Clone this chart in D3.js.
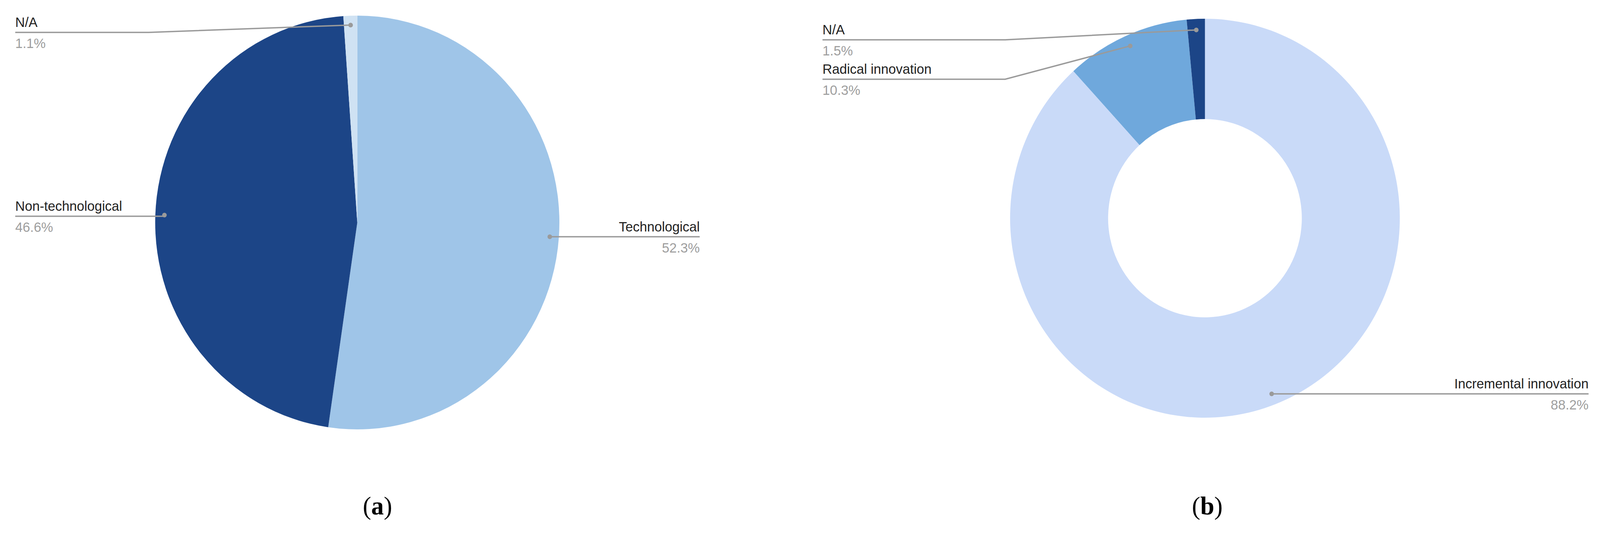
<!DOCTYPE html>
<html><head><meta charset="utf-8">
<script src="https://cdn.jsdelivr.net/npm/d3@7"></script>
<style>html,body{margin:0;padding:0;background:#fff;overflow:hidden}svg{display:block}</style>
</head><body>
<script>
// chart (a)
var typeLabels = ['Technological', 'Non-technological', 'N/A'];
var typeValues = [52.3, 46.6, 1.1];
var typeColors = ['#9fc5e8', '#1c4587', '#cfe2f3'];
// chart (b)
var degreeLabels = ['Incremental innovation', 'Radical innovation', 'N/A'];
var degreeValues = [88.2, 10.3, 1.5];
var degreeColors = ['#c9daf8', '#6fa8dc', '#1c4587'];

var W = 4196, H = 1368;
var svg = d3.select('body').append('svg')
  .attr('width', '100vw').attr('height', '100vh')
  .attr('viewBox', '0 0 ' + W + ' ' + H)
  .attr('preserveAspectRatio', 'none')
  .style('font-family', 'Liberation Sans, Arial, sans-serif');

function drawPie(cfg) {
  var pie = d3.pie().sort(null).value(function (d) { return d; });
  var arcs = pie(cfg.values);
  var g = svg.append('g').attr('transform', 'translate(' + cfg.cx + ',' + cfg.cy + ')');
  var arc = d3.arc().innerRadius(cfg.inner).outerRadius(cfg.outer);
  g.selectAll('path').data(arcs).enter().append('path')
    .attr('d', arc)
    .attr('fill', function (d, i) { return cfg.colors[i]; });

  arcs.forEach(function (a, i) {
    var mid = (a.startAngle + a.endAngle) / 2;
    var dr = cfg.outer * cfg.dotFrac;
    var dx = cfg.cx + Math.sin(mid) * dr, dy = cfg.cy - Math.cos(mid) * dr;
    var L = cfg.labels[i];
    var pts;
    if (L.side === 'left') {
      pts = [[L.x, L.ly], [L.elbow || dx, L.ly], [dx, dy]];
    } else {
      pts = [[dx, dy], [L.x, dy]];
    }
    svg.append('path').attr('d', d3.line()(pts))
      .attr('fill', 'none').attr('stroke', '#9a9a9a').attr('stroke-width', 3.5);
    svg.append('circle').attr('cx', dx).attr('cy', dy).attr('r', 6).attr('fill', '#9a9a9a');
    var anchor = L.side === 'left' ? 'start' : 'end';
    var base = L.side === 'left' ? L.ly : dy;
    svg.append('text').attr('x', L.x).attr('y', base - 14).attr('text-anchor', anchor)
      .attr('font-size', 35).attr('fill', '#222').text(cfg.names[i]);
    svg.append('text').attr('x', L.x).attr('y', base + 40).attr('text-anchor', anchor)
      .attr('font-size', 35).attr('fill', '#9e9e9e').text(cfg.values[i] + '%');
  });
}

drawPie({
  cx: 937, cy: 570, outer: 530, inner: 0, dotFrac: 0.955,
  values: typeValues, colors: typeColors, names: typeLabels,
  labels: [
    { side: 'right', x: 1835 },
    { side: 'left', x: 40, ly: 554 },
    { side: 'left', x: 40, ly: 83, elbow: 390 }
  ]
});

drawPie({
  cx: 3160, cy: 559, outer: 511, inner: 254, dotFrac: 0.945,
  values: degreeValues, colors: degreeColors, names: degreeLabels,
  labels: [
    { side: 'right', x: 4166 },
    { side: 'left', x: 2157, ly: 203, elbow: 2636 },
    { side: 'left', x: 2157, ly: 102, elbow: 2636 }
  ]
});

[['a', 990], ['b', 3166]].forEach(function (c) {
  var t = svg.append('text').attr('x', c[1]).attr('y', 1318).attr('text-anchor', 'middle')
    .attr('font-family', 'Liberation Serif, Times New Roman, serif').attr('font-size', 66).attr('fill', '#000');
  t.append('tspan').text('(');
  t.append('tspan').attr('font-weight', 'bold').text(c[0]);
  t.append('tspan').text(')');
});
</script>
</body></html>
